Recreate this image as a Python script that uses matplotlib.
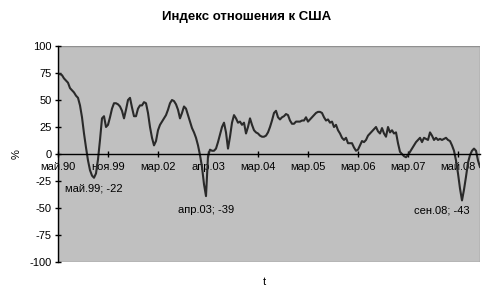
import numpy as np
import matplotlib
matplotlib.use('Agg')
import matplotlib.pyplot as plt
from matplotlib.patches import Rectangle

plt.rcParams['font.family'] = ['Liberation Sans', 'DejaVu Sans']
plt.rcParams['axes.unicode_minus'] = False

# index values
index_vals = [
    74, 74, 73, 70, 68, 66, 61, 59, 57, 54, 52, 45, 34, 19, 6, -6, -15, -20, -22, -18,
    -5, 13, 33, 35, 25, 27, 34, 42, 47, 47, 46, 44, 40, 33, 41, 50, 52, 43, 35, 35,
    42, 45, 45, 48, 47, 38, 25, 15, 8, 12, 22, 27, 30, 33, 36, 41, 47, 50, 49, 46,
    41, 33, 38, 44, 42, 36, 30, 24, 20, 15, 8, -1, -12, -28, -39, -2, 4, 3, 3, 5,
    11, 18, 25, 29, 20, 5, 16, 29, 36, 33, 29, 30, 27, 29, 19, 25, 33, 27, 22, 20,
    19, 17, 16, 16, 17, 20, 25, 31, 38, 40, 34, 32, 34, 35, 37, 36, 31, 28, 28, 30,
    30, 30, 31, 31, 34, 30, 32, 34, 36, 38, 39, 39, 38, 34, 31, 32, 29, 30, 25, 27,
    22, 19, 15, 13, 15, 10, 10, 10, 6, 3, 4, 8, 12, 11, 13, 17, 19, 21, 23, 25,
    21, 19, 24, 19, 16, 25, 20, 22, 19, 20, 10, 2, 0, -2, -3, -1, 2, 5, 8, 11,
    13, 15, 11, 15, 14, 13, 20, 17, 13, 15, 13, 14, 13, 14, 15, 13, 12, 8, 3, -6,
    -18, -32, -43, -33, -21, -8, -1, 3, 5, 3, -6, -12,
]
tick_pos = [0, 25, 50, 75, 100, 125, 150, 175, 200]
tick_labels = ['май.90', 'ноя.99', 'мар.02', 'апр.03', 'мар.04',
               'мар.05', 'мар.06', 'мар.07', 'май.08']
notes = ['май.99; -22', 'апр.03; -39', 'сен.08; -43']
note_idx = [18, 74, 192]
note_val = [-32, -52, -52]

x = np.arange(len(index_vals))

fig = plt.figure(figsize=(4.93, 2.90), dpi=100)
ax = fig.add_axes([58/493, 1-262/290, 422/493, 216/290])
ax.set_facecolor('#c0c0c0')

ax.plot(x, index_vals, color='#2a2a2a', linewidth=1.5)

ax.set_xlim(0, len(index_vals)-1)
ax.set_ylim(-100, 100)
ax.set_yticks(np.arange(-100, 101, 25))
ax.set_xticks(tick_pos)
ax.set_xticklabels(tick_labels)

ax.spines['bottom'].set_position(('data', 0))
ax.spines['bottom'].set_color('black')
ax.spines['bottom'].set_linewidth(1.0)
ax.spines['top'].set_visible(False)
ax.spines['right'].set_visible(False)
ax.spines['left'].set_linewidth(1.0)
ax.add_patch(Rectangle((0, 0), 1, 1, transform=ax.transAxes, fill=False,
                       edgecolor='#909090', linewidth=1.0, zorder=0.5))

ax.tick_params(axis='x', direction='inout', length=5, width=1, labelsize=8, pad=3)
ax.tick_params(axis='y', direction='inout', length=5, width=1, labelsize=8, pad=2)

for t, i, v in zip(notes, note_idx, note_val):
    ax.text(i, v, t, fontsize=8, ha='center', va='center')

ax.set_ylabel('%', fontsize=8)
ax.yaxis.set_label_coords((22-58)/422, 0.5)
ax.set_xlabel('t', fontsize=8)
ax.xaxis.set_label_coords(0.49, -0.07)
fig.text(0.5, 1-17/290, 'Индекс отношения к США', fontsize=9.5,
         fontweight='bold', ha='center', va='center')

fig.savefig('out.png', dpi=100)
